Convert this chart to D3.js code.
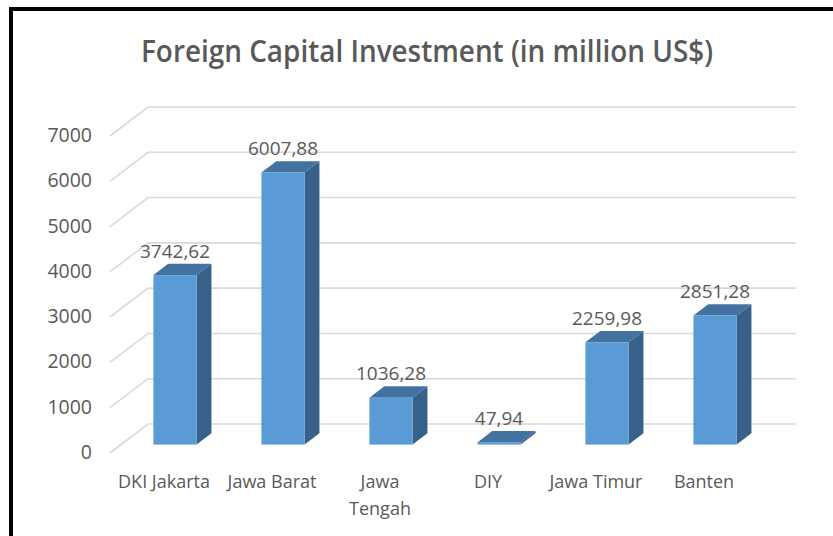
<!DOCTYPE html>
<html>
<head>
<meta charset="utf-8">
<script src="https://cdn.jsdelivr.net/npm/d3@7"></script>
<style>
  body { margin: 0; background: #fff; }
  svg { display: block; }
  text { font-family: "Open Sans", sans-serif; fill: #595959; }
</style>
</head>
<body>
<svg></svg>
<script>
const title = "Foreign Capital Investment (in million US$)";
const categories = ["DKI Jakarta", "Jawa Barat", "Jawa Tengah", "DIY", "Jawa Timur", "Banten"];
const values = [3742.62, 6007.88, 1036.28, 47.94, 2259.98, 2851.28];
const valueLabels = ["3742,62", "6007,88", "1036,28", "47,94", "2259,98", "2851,28"];
const yTicks = [0, 1000, 2000, 3000, 4000, 5000, 6000, 7000];

const width = 833, height = 536;
const svg = d3.select("svg").attr("width", width).attr("height", height);

// frame (runs off the right and bottom edges)
svg.append("rect")
    .attr("x", 11).attr("y", 9)
    .attr("width", 900).attr("height", 700)
    .attr("fill", "none").attr("stroke", "#000").attr("stroke-width", 4);

svg.append("text")
    .attr("x", 427).attr("y", 62)
    .attr("text-anchor", "middle")
    .attr("font-size", 30).attr("font-weight", 600)
    .attr("textLength", 572).attr("lengthAdjust", "spacingAndGlyphs")
    .text(title);

// oblique projection: depth vector of the floor
const dx = 38, dy = -29;
const x = d3.scaleBand().domain(categories).range([110, 758]);
const y = d3.scaleLinear().domain([0, 7000]).range([453, 136]);

// gridlines: side wall diagonal + back wall
svg.append("g").selectAll("path")
    .data(yTicks)
    .enter().append("path")
    .attr("d", function (t) {
        const yy = y(t);
        return "M" + x.range()[0] + "," + yy
            + "L" + (x.range()[0] + dx) + "," + (yy + dy)
            + "L" + (x.range()[1] + dx) + "," + (yy + dy);
    })
    .attr("fill", "none").attr("stroke", "#d9d9d9").attr("stroke-width", 1.6);

// y tick labels
svg.append("g").selectAll("text")
    .data(yTicks)
    .enter().append("text")
    .attr("x", 92).attr("y", function (t) { return y(t) + 6; })
    .attr("text-anchor", "end").attr("font-size", 19.5)
    .text(function (t) { return t; });

// bars
const f0 = 0.29, f1 = 0.68;
const bw = x.bandwidth() * 0.4;
const ddx = dx * (f1 - f0), ddy = dy * (f1 - f0);
const bars = categories.map(function (c, i) {
    const xl = x(c) + (x.bandwidth() - bw) / 2 + dx * f0;
    return {
        xl: xl,
        yb: y(0) + dy * f0,
        yt: y(values[i]) + dy * f0,
        label: valueLabels[i]
    };
});

const g = svg.append("g");
const bar = g.selectAll(".bar").data(bars).enter().append("g").attr("class", "bar");

bar.append("path")
    .attr("d", function (d) {
        const xr = d.xl + bw;
        return "M" + xr + "," + d.yt + "L" + (xr + ddx) + "," + (d.yt + ddy)
            + "L" + (xr + ddx) + "," + (d.yb + ddy) + "L" + xr + "," + d.yb + "Z";
    })
    .attr("fill", "#386189");

bar.append("path")
    .attr("d", function (d) {
        return "M" + d.xl + "," + d.yt + "L" + (d.xl + ddx) + "," + (d.yt + ddy)
            + "L" + (d.xl + bw + ddx) + "," + (d.yt + ddy) + "L" + (d.xl + bw) + "," + d.yt + "Z";
    })
    .attr("fill", "#4472a0");

bar.append("rect")
    .attr("x", function (d) { return d.xl; })
    .attr("y", function (d) { return d.yt; })
    .attr("width", bw)
    .attr("height", function (d) { return d.yb - d.yt; })
    .attr("fill", "#5b9bd5");

bar.append("text")
    .attr("x", function (d) { return d.xl + bw / 2; })
    .attr("y", function (d) { return d.yt + ddy - 6; })
    .attr("text-anchor", "middle").attr("font-size", 19)
    .text(function (d) { return d.label; });

// category labels, wrapped when too wide for the band
const cat = svg.append("g").selectAll("text")
    .data(categories)
    .enter().append("text")
    .attr("x", function (c) { return x(c) + x.bandwidth() / 2; })
    .attr("y", 488)
    .attr("text-anchor", "middle").attr("font-size", 18)
    .text(function (c) { return c; });

cat.each(function (c) {
    const t = d3.select(this);
    if (this.getComputedTextLength() > 100) {
        const words = c.split(" ");
        t.text(null);
        words.forEach(function (w, i) {
            t.append("tspan")
                .attr("x", x(c) + x.bandwidth() / 2)
                .attr("dy", i === 0 ? 0 : 27)
                .text(w);
        });
    }
});
</script>
</body>
</html>
